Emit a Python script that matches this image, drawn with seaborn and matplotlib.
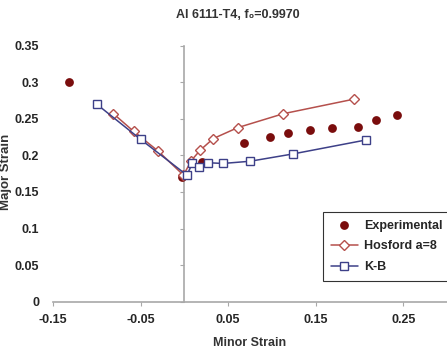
import matplotlib
matplotlib.use("Agg")
import matplotlib.pyplot as plt
import seaborn as sns

# values
exp_x = [-0.132, -0.003, 0.020, 0.068, 0.098, 0.118, 0.143, 0.169, 0.198, 0.219, 0.243]
exp_y = [0.301, 0.170, 0.191, 0.217, 0.225, 0.230, 0.235, 0.237, 0.239, 0.249, 0.255]

hos_x = [-0.081, -0.058, -0.030, -0.001, 0.008, 0.018, 0.033, 0.061, 0.113, 0.194]
hos_y = [0.257, 0.233, 0.206, 0.173, 0.193, 0.207, 0.223, 0.238, 0.257, 0.277]

kb_x = [-0.100, -0.050, 0.003, 0.009, 0.017, 0.027, 0.044, 0.075, 0.124, 0.207]
kb_y = [0.270, 0.222, 0.173, 0.189, 0.184, 0.190, 0.189, 0.192, 0.202, 0.221]

xticks = [-0.15, -0.05, 0.05, 0.15, 0.25]
xtick_labels = ["-0.15", "-0.05", "0.05", "0.15", "0.25"]
yticks = [0, 0.05, 0.1, 0.15, 0.2, 0.25, 0.3, 0.35]
ytick_labels = ["0", "0.05", "0.1", "0.15", "0.2", "0.25", "0.3", "0.35"]

c_exp = "#7a0d0d"
c_hos = "#b5504c"
c_kb = "#3d4088"
c_axis = "#a8a8a8"

sns.set_style("white")
plt.rcParams["font.family"] = ["Liberation Sans", "DejaVu Sans"]

fig = plt.figure(figsize=(4.47, 3.5), dpi=100)
ax = fig.add_axes([53 / 447, 48.3 / 350, 394 / 447, 256 / 350])

sns.scatterplot(x=exp_x, y=exp_y, ax=ax, color=c_exp, s=40, edgecolor=c_exp,
                linewidth=0, label="Experimental", zorder=2)
sns.lineplot(x=hos_x, y=hos_y, ax=ax, sort=False, estimator=None, color=c_hos,
             lw=1.1, marker="D", markersize=5, markerfacecolor="white",
             markeredgecolor=c_hos, markeredgewidth=1.0, label="Hosford a=8", zorder=3)
sns.lineplot(x=kb_x, y=kb_y, ax=ax, sort=False, estimator=None, color=c_kb,
             lw=1.1, marker="s", markersize=5.5, markerfacecolor="white",
             markeredgecolor=c_kb, markeredgewidth=1.0, label="K-B", zorder=4)

ax.set_xlim(-0.15, 0.30)
ax.set_ylim(0, 0.35)

for side in ["top", "right", "left"]:
    ax.spines[side].set_visible(False)
ax.spines["bottom"].set_color(c_axis)
ax.spines["bottom"].set_linewidth(1.2)

ax.set_xticks(xticks)
ax.set_xticklabels(xtick_labels, fontsize=9, fontweight="bold")
ax.set_yticks(yticks)
ax.set_yticklabels(ytick_labels, fontsize=9, fontweight="bold")
ax.tick_params(axis="x", length=3, color=c_axis, pad=6, bottom=True)
ax.tick_params(axis="y", length=0, pad=10)

# vertical axis drawn through minor strain = 0
sec = ax.secondary_yaxis(0.15 / 0.45)
sec.spines["left"].set_color(c_axis)
sec.spines["left"].set_linewidth(1.2)
sec.set_yticks(yticks)
sec.tick_params(length=3, color=c_axis, labelleft=False)

ax.set_xlabel("Minor Strain", fontsize=9, fontweight="bold", color="#333333", labelpad=8)
fig.text(6 / 447, 1 - 172 / 350, "Major Strain", rotation=90, fontsize=9.5,
         fontweight="bold", color="#333333", ha="center", va="center")
fig.text(238 / 447, 1 - 15 / 350, "Al 6111-T4, f\u2080=0.9970", fontsize=9,
         fontweight="bold", color="#333333", ha="center", va="center")

leg = ax.legend(loc="upper left", bbox_to_anchor=(323 / 447, 1 - 212 / 350),
                bbox_transform=fig.transFigure, frameon=True, fancybox=False,
                borderaxespad=0, prop={"weight": "bold", "size": 9},
                handlelength=2.2, handletextpad=0.5, borderpad=0.6,
                labelspacing=0.7)
leg.get_frame().set_edgecolor("black")
leg.get_frame().set_linewidth(0.8)

fig.savefig("out.png", dpi=100)
